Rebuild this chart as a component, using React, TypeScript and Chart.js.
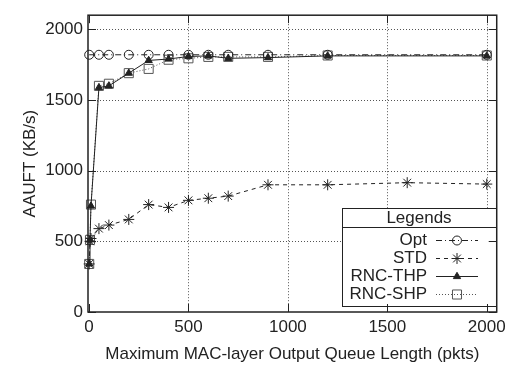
import React, { useEffect, useRef } from 'react';
import { Chart, registerables } from 'chart.js';

Chart.register(...registerables);

// ---- data ----
const queueLengths = [1, 5, 10, 50, 100, 200, 300, 400, 500, 600, 700, 900, 1200, 2000];
const optX = [1, 50, 100, 200, 300, 400, 500, 600, 700, 900, 1200, 2000];
const optValues = [1820, 1820, 1820, 1820, 1820, 1820, 1820, 1820, 1820, 1820, 1820, 1820];
const stdX = [1, 5, 10, 50, 100, 200, 300, 400, 500, 600, 700, 900, 1200, 1600, 2000];
const stdValues = [340, 500, 520, 590, 615, 655, 760, 740, 790, 805, 820, 900, 900, 915, 905];
const thpValues = [340, 510, 750, 1588, 1600, 1690, 1780, 1790, 1808, 1812, 1795, 1800, 1812, 1812];
const shpValues = [340, 510, 760, 1600, 1615, 1690, 1720, 1785, 1795, 1805, 1805, 1805, 1815, 1815];
const xTicks = [0, 500, 1000, 1500, 2000];
const yTicks = [0, 500, 1000, 1500, 2000];
const legendLabels = ['Opt', 'STD', 'RNC-THP', 'RNC-SHP'];

const FONT = "'Liberation Sans', Arial, Helvetica, sans-serif";
const TXT = '#222';

function pts(xs: number[], ys: number[]) {
  return xs.map((x, i) => ({ x, y: ys[i] }));
}

function drawMarker(ctx: CanvasRenderingContext2D, style: string, x: number, y: number, r: number, color: string, fill: boolean) {
  ctx.save();
  ctx.setLineDash([]);
  ctx.strokeStyle = color;
  ctx.fillStyle = color;
  ctx.lineWidth = 1;
  ctx.beginPath();
  if (style === 'circle') {
    ctx.arc(x, y, r, 0, Math.PI * 2);
    ctx.stroke();
  } else if (style === 'star') {
    ctx.moveTo(x - r, y); ctx.lineTo(x + r, y);
    ctx.moveTo(x, y - r); ctx.lineTo(x, y + r);
    const d = r * Math.SQRT1_2;
    ctx.moveTo(x - d, y - d); ctx.lineTo(x + d, y + d);
    ctx.moveTo(x - d, y + d); ctx.lineTo(x + d, y - d);
    ctx.stroke();
  } else if (style === 'triangle') {
    ctx.moveTo(x, y - r);
    ctx.lineTo(x + r * 0.866, y + r * 0.5);
    ctx.lineTo(x - r * 0.866, y + r * 0.5);
    ctx.closePath();
    if (fill) ctx.fill();
    ctx.stroke();
  } else if (style === 'rect') {
    const s = r * Math.SQRT1_2;
    ctx.rect(x - s, y - s, 2 * s, 2 * s);
    ctx.stroke();
  }
  ctx.restore();
}

const seriesStyles = [
  { color: '#222', dash: [6, 3, 1, 3], point: 'circle', radius: 4.5, fill: false },
  { color: '#222', dash: [4, 4], point: 'star', radius: 5.5, fill: false },
  { color: '#222', dash: [], point: 'triangle', radius: 4.2, fill: true },
  { color: '#555', dash: [1, 2], point: 'rect', radius: 6.4, fill: false },
];

const framePlugin = {
  id: 'frame',
  beforeDatasetsDraw(chart: any) {
    const { ctx, chartArea: a, scales } = chart;
    ctx.save();
    ctx.strokeStyle = '#555';
    ctx.lineWidth = 1;
    ctx.setLineDash([1, 2]);
    xTicks.forEach((v) => {
      if (v === 0) return;
      const px = Math.round(scales.x.getPixelForValue(v)) + 0.5;
      ctx.beginPath(); ctx.moveTo(px, a.top); ctx.lineTo(px, a.bottom); ctx.stroke();
    });
    yTicks.forEach((v) => {
      if (v === 0) return;
      const py = Math.round(scales.y.getPixelForValue(v)) + 0.5;
      ctx.beginPath(); ctx.moveTo(a.left, py); ctx.lineTo(a.right, py); ctx.stroke();
    });
    ctx.restore();
  },
  afterDatasetsDraw(chart: any) {
    const { ctx, chartArea: a, scales } = chart;
    // legend
    const L = 342, R = 496, T = 208, B = 306;
    ctx.save();
    ctx.setLineDash([]);
    ctx.fillStyle = '#fff';
    ctx.fillRect(L, T, R - L, B - T);
    ctx.strokeStyle = '#222';
    ctx.lineWidth = 1;
    ctx.strokeRect(L + 0.5, T + 0.5, R - L, B - T);
    ctx.beginPath(); ctx.moveTo(L, 227.5); ctx.lineTo(R, 227.5); ctx.stroke();
    ctx.fillStyle = TXT;
    ctx.font = `17px ${FONT}`;
    ctx.textBaseline = 'middle';
    ctx.textAlign = 'center';
    ctx.fillText('Legends', (L + R) / 2, 218);
    ctx.textAlign = 'right';
    legendLabels.forEach((lab, i) => {
      const y = 240 + i * 18;
      const st = seriesStyles[i];
      ctx.fillStyle = TXT;
      ctx.fillText(lab, 427, y);
      ctx.save();
      ctx.strokeStyle = st.color;
      ctx.lineWidth = 1;
      ctx.setLineDash(st.dash);
      ctx.beginPath(); ctx.moveTo(436, y + 0.5); ctx.lineTo(478, y + 0.5); ctx.stroke();
      ctx.restore();
      drawMarker(ctx, st.point, 457, y + 0.5, st.radius, st.color, st.fill);
    });
    // border & ticks
    ctx.strokeStyle = '#222';
    ctx.lineWidth = 1.5;
    ctx.setLineDash([]);
    ctx.strokeRect(a.left, a.top, a.right - a.left, a.bottom - a.top);
    ctx.lineWidth = 1;
    const tl = 8;
    xTicks.forEach((v) => {
      const px = Math.round(scales.x.getPixelForValue(v)) + 0.5;
      ctx.beginPath();
      ctx.moveTo(px, a.bottom); ctx.lineTo(px, a.bottom - tl);
      ctx.moveTo(px, a.top); ctx.lineTo(px, a.top + tl);
      ctx.stroke();
    });
    yTicks.forEach((v) => {
      const py = Math.round(scales.y.getPixelForValue(v)) + 0.5;
      ctx.beginPath();
      ctx.moveTo(a.left, py); ctx.lineTo(a.left + tl, py);
      ctx.moveTo(a.right, py); ctx.lineTo(a.right - tl, py);
      ctx.stroke();
    });
    ctx.restore();
  },
};

export default function App() {
  const ref = useRef<HTMLCanvasElement | null>(null);
  useEffect(() => {
    document.body.style.margin = '0';
    if (!ref.current) return;
    const dataSets = [pts(optX, optValues), pts(stdX, stdValues), pts(queueLengths, thpValues), pts(queueLengths, shpValues)];
    const chart = new Chart(ref.current, {
      type: 'line',
      data: {
        datasets: dataSets.map((d, i) => {
          const st = seriesStyles[i];
          return {
            label: legendLabels[i],
            data: d,
            borderColor: st.color,
            borderWidth: 1,
            borderDash: st.dash,
            pointStyle: st.point,
            pointRadius: st.radius,
            pointBorderColor: st.color,
            pointBorderWidth: 1,
            pointBackgroundColor: st.fill ? st.color : 'rgba(0,0,0,0)',
            tension: 0,
            clip: false as any,
          };
        }),
      },
      options: {
        animation: false,
        responsive: false,
        maintainAspectRatio: false,
        layout: { padding: { top: 7, right: 13, left: 0, bottom: 0 } },
        plugins: { legend: { display: false }, tooltip: { enabled: false } },
        scales: {
          x: {
            type: 'linear',
            min: -5,
            max: 2050,
            grid: { display: false, drawTicks: false },
            border: { display: false },
            afterBuildTicks: (s: any) => { s.ticks = xTicks.map((v) => ({ value: v })); },
            afterFit: (s: any) => { s.height = 55; },
            ticks: { autoSkip: false, maxRotation: 0, padding: 5, color: TXT, font: { family: FONT, size: 17 }, callback: (v: any) => String(v) },
            title: { display: true, text: 'Maximum MAC-layer Output Queue Length (pkts)', color: TXT, font: { family: FONT, size: 17 }, padding: { top: 0, bottom: 2 } },
          },
          y: {
            type: 'linear',
            min: 0,
            max: 2100,
            grid: { display: false, drawTicks: false },
            border: { display: false },
            afterBuildTicks: (s: any) => { s.ticks = yTicks.map((v) => ({ value: v })); },
            afterFit: (s: any) => { s.width = 88; },
            ticks: { autoSkip: false, padding: 5, color: TXT, font: { family: FONT, size: 17 }, callback: (v: any) => String(v) },
            title: { display: true, text: 'AAUFT (KB/s)', color: TXT, font: { family: FONT, size: 17 }, padding: { top: 20, bottom: 0 } },
          },
        },
      },
      plugins: [framePlugin],
    } as any);
    return () => chart.destroy();
  }, []);
  return (
    <div style={{ width: 511, height: 367 }}>
      <canvas ref={ref} width={511} height={367} style={{ display: 'block', width: 511, height: 367 }} />
    </div>
  );
}
